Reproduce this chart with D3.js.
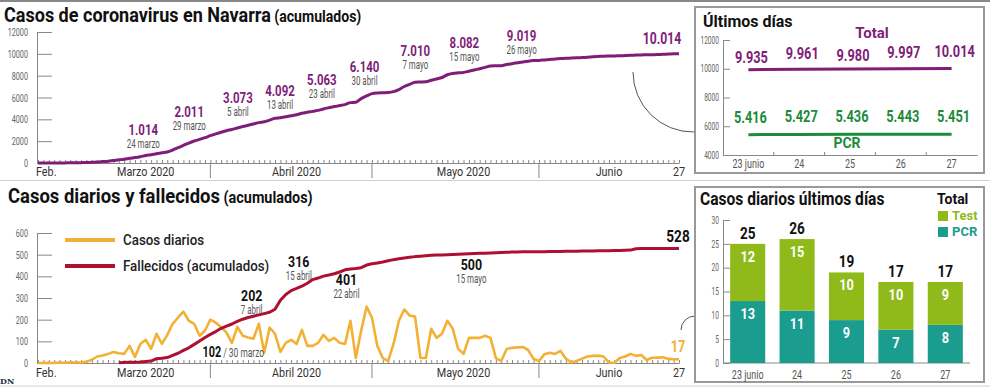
<!DOCTYPE html>
<html>
<head>
<meta charset="utf-8">
<script src="https://cdn.jsdelivr.net/npm/d3@7"></script>
<style>
body { margin: 0; background: #fff; }
svg { display: block; }
</style>
</head>
<body>
<svg width="990" height="387"></svg>
<script>
// serie diaria desde el 29 de febrero
const inicio = new Date(2020, 1, 29);

const casosAcumulados = [
  2, 3, 4, 6, 8, 10, 14, 20, 30, 45,
  60, 90, 130, 170, 230, 290, 350, 430, 500, 580,
  680, 760, 850, 930, 1014, 1190, 1400, 1620, 1830, 2011,
  2160, 2320, 2500, 2670, 2820, 2960, 3073, 3210, 3340, 3460,
  3580, 3700, 3780, 3930, 4092, 4150, 4240, 4330, 4420, 4560,
  4650, 4730, 4820, 4950, 5063, 5170, 5260, 5350, 5530, 5560,
  5900, 6140, 6350, 6420, 6440, 6460, 6540, 6720, 7010, 7200,
  7400, 7420, 7440, 7580, 7700, 7830, 8082, 8200, 8260, 8300,
  8410, 8520, 8640, 8760, 8880, 8900, 8910, 9019, 9100, 9180,
  9260, 9330, 9380, 9400, 9440, 9480, 9520, 9570, 9600, 9610,
  9630, 9660, 9690, 9725, 9760, 9790, 9795, 9800, 9820, 9845,
  9870, 9885, 9900, 9910, 9922, 9935, 9961, 9980, 9997, 10014
];

const casosDiarios = [
  0, 0, 1, 0, 2, 1, 3, 2, 3, 5,
  15, 30, 35, 42, 51, 45, 42, 79, 28, 88,
  107, 65, 135, 88, 130, 181, 210, 237, 195, 181,
  126, 150, 200, 186, 165, 140, 93, 167, 126, 118,
  112, 181, 47, 163, 135, 51, 93, 107, 88, 153,
  79, 79, 93, 130, 102, 116, 93, 88, 195, 23,
  150, 260, 209, 79, 23, 9, 88, 195, 247, 219,
  214, 23, 23, 158, 116, 135, 195, 158, 65, 42,
  116, 116, 116, 126, 116, 23, 9, 65, 70, 72,
  74, 60, 19, 9, 40, 47, 42, 56, 20, 2,
  9, 20, 30, 33, 34, 30, 2, 1, 23, 30,
  42, 33, 37, 14, 24, 25, 26, 19, 17, 17
];

// fallecidos acumulados desde el 15 de marzo
const inicioFallecidos = new Date(2020, 2, 15);
const fallecidos = [
  1, 2, 3, 4, 5, 7, 9, 20, 22, 25,
  35, 45, 58, 70, 86, 102, 118, 132, 145, 160,
  170, 180, 192, 202, 210, 216, 222, 228, 234, 248,
  290, 316, 334, 344, 355, 368, 385, 392, 401, 406,
  412, 420, 430, 434, 436, 440, 452, 458, 462, 466,
  472, 477, 481, 485, 488, 491, 493, 495, 497, 499,
  499, 500, 501, 502, 503, 504, 505, 506, 507, 508,
  509, 510, 511, 512, 512, 513, 513, 514, 514, 514,
  515, 515, 515, 516, 516, 516, 517, 517, 517, 518,
  518, 518, 519, 519, 520, 521, 527, 528, 528, 528,
  528, 528, 528, 528, 528
];

const hitosCasosFecha = [
  new Date(2020, 2, 24), new Date(2020, 2, 29), new Date(2020, 3, 5), new Date(2020, 3, 13),
  new Date(2020, 3, 23), new Date(2020, 3, 30), new Date(2020, 4, 7), new Date(2020, 4, 15),
  new Date(2020, 4, 26), new Date(2020, 5, 27)
];
const hitosCasosTexto = ["24 marzo", "29 marzo", "5 abril", "13 abril", "23 abril", "30 abril", "7 mayo", "15 mayo", "26 mayo", ""];

const hitosFallecidosFecha = [new Date(2020, 3, 7), new Date(2020, 3, 15), new Date(2020, 3, 22), new Date(2020, 4, 15), new Date(2020, 5, 27)];
const hitosFallecidosTexto = ["7 abril", "15 abril", "22 abril", "15 mayo", ""];
const hitoMarzo = new Date(2020, 2, 30);
const hitoMarzoTexto = " / 30 marzo";

const meses = ["Feb.", "Marzo 2020", "Abril 2020", "Mayo 2020", "Junio", "27"];
const mesesFecha = [new Date(2020, 1, 29), new Date(2020, 2, 20), new Date(2020, 3, 17), new Date(2020, 4, 18), new Date(2020, 5, 14), new Date(2020, 5, 27)];
const cortesMes = [new Date(2020, 3, 1), new Date(2020, 4, 1), new Date(2020, 5, 1)];

const ultimosDias = ["23 junio", "24", "25", "26", "27"];
const ultimosTotal = [9935, 9961, 9980, 9997, 10014];
const ultimosPCR = [5416, 5427, 5436, 5443, 5451];
const diariosPCR = [13, 11, 9, 7, 8];
const diariosTest = [12, 15, 10, 10, 9];

// colores y fuentes
const MORADO = "#7f1d79", VERDE = "#1d8a3c", AMARILLO = "#f2b134", ROJO = "#ad1030";
const LIMA = "#8fba1a", TURQUESA = "#1a9c8e";
const FUENTE = "Roboto, 'Open Sans', sans-serif";

let svg = d3.select("svg");
let fmt = d3.formatLocale({decimal: ",", thousands: ".", grouping: [3], currency: ["", " €"]}).format(",");

// estrecha el texto en horizontal (la fuente original es condensada)
function comprimir(sel, k) {
  sel.each(function() {
    let t = d3.select(this);
    let xx = +t.attr("x") || 0, yy = +t.attr("y") || 0;
    t.attr("x", null).attr("y", null).attr("transform", `translate(${xx},${yy}) scale(${k},1)`);
  });
}

let dias = casosAcumulados.map((d, i) => d3.timeDay.offset(inicio, i));
let diasFallecidos = fallecidos.map((d, i) => d3.timeDay.offset(inicioFallecidos, i));
let fin = dias[dias.length - 1];
let valorEn = (serie, arranque, fecha) => serie[d3.timeDay.count(arranque, fecha)];

let x = d3.scaleTime().domain([inicio, fin]).range([38, 679]);
let yTop = d3.scaleLinear().domain([0, 12000]).range([163, 32]);
let yBot = d3.scaleLinear().domain([0, 600]).range([363, 233]);

// marcos y separadores
svg.append("line").attr("x1", 0).attr("x2", 990).attr("y1", 1).attr("y2", 1).attr("stroke", "#888").attr("stroke-width", 2);
svg.append("line").attr("x1", 0).attr("x2", 990).attr("y1", 180.5).attr("y2", 180.5).attr("stroke", "#d0d0d0");
svg.append("line").attr("x1", 0).attr("x2", 990).attr("y1", 386).attr("y2", 386).attr("stroke", "#d0d0d0");

function ejeY(escala, valores, x0, largo) {
  let g = svg.append("g").attr("transform", `translate(${x0},0)`)
    .call(d3.axisLeft(escala).tickValues(valores).tickSizeInner(-largo).tickSizeOuter(0).tickPadding(largo > 10 ? 9 : 4).tickFormat(d3.format("d")));
  g.selectAll("path, line").attr("stroke", "#888");
  g.selectAll("text").attr("font-family", FUENTE).attr("font-size", largo > 10 ? 11 : 10).attr("fill", "#666").call(comprimir, 0.66);
  return g;
}

function ejeTiempo(y0, yTexto) {
  let g = svg.append("g").attr("transform", `translate(0,${y0})`)
    .call(d3.axisBottom(x).ticks(d3.timeDay.every(1)).tickSize(-3).tickSizeOuter(0).tickFormat(""));
  g.selectAll("path, line").attr("stroke", "#888");
  g.selectAll(".corte").data(cortesMes).join("line").attr("class", "corte")
    .attr("x1", d => x(d)).attr("x2", d => x(d)).attr("y1", 0).attr("y2", 15)
    .attr("stroke", "#888");
  svg.selectAll(null).data(meses).join("text")
    .attr("x", (d, i) => i == 0 ? x(mesesFecha[i]) - 2 : x(mesesFecha[i]))
    .attr("y", yTexto)
    .attr("text-anchor", (d, i) => i == 0 ? "start" : "middle")
    .attr("font-family", FUENTE).attr("font-size", 13.5).attr("fill", "#333")
    .text(d => d)
    .call(comprimir, 0.8);
}

// ---- Casos de coronavirus en Navarra ----
let t1 = svg.append("text").attr("x", 4).attr("y", 22).attr("font-family", FUENTE).attr("font-weight", 700).attr("fill", "#111");
t1.append("tspan").attr("font-size", 20.5).text("Casos de coronavirus en Navarra");
t1.append("tspan").attr("font-size", 16).text(" (acumulados)");
t1.call(comprimir, 0.88);

ejeY(yTop, d3.range(0, 12001, 2000), 37, 15);
ejeTiempo(163, 176);

svg.append("path")
  .datum(casosAcumulados)
  .attr("d", d3.line().x((d, i) => x(dias[i])).y(d => yTop(d)).curve(d3.curveMonotoneX))
  .attr("fill", "none").attr("stroke", MORADO).attr("stroke-width", 3).attr("stroke-linejoin", "round");

let offCasos = [[-24, -17], [-5, -24], [6, -26], [5, -22], [-7, -23], [-2, -24], [11, -30], [17, -27], [15, -24], [-17, -10]];
hitosCasosFecha.forEach(function(f, i) {
  let v = valorEn(casosAcumulados, inicio, f);
  let cx = x(f) + offCasos[i][0], cy = yTop(v) + offCasos[i][1];
  svg.append("text").attr("x", cx).attr("y", cy).attr("text-anchor", "middle")
    .attr("font-family", FUENTE).attr("font-weight", 700).attr("font-size", i == 9 ? 16.5 : 15.5).attr("fill", MORADO)
    .text(fmt(v)).call(comprimir, 0.74);
  svg.append("text").attr("x", cx).attr("y", cy + 13).attr("text-anchor", "middle")
    .attr("font-family", FUENTE).attr("font-size", 12).attr("fill", "#555")
    .text(hitosCasosTexto[i]).call(comprimir, 0.66);
});

// conector hacia el recuadro
svg.append("path").attr("d", "M633,72 A60,60 0 0,0 694,132").attr("fill", "none").attr("stroke", "#555").attr("stroke-width", 1);

// ---- Últimos días ----
svg.append("rect").attr("x", 695).attr("y", 7).attr("width", 289).attr("height", 166)
  .attr("fill", "#fff").attr("stroke", "#999").attr("stroke-width", 2);
svg.append("text").attr("x", 703).attr("y", 27).attr("font-family", FUENTE).attr("font-weight", 700).attr("font-size", 17).attr("fill", "#111")
  .text("Últimos días").call(comprimir, 0.94);

let xUlt = d3.scaleBand().domain(ultimosDias).range([723, 977]);
let yUlt = d3.scaleLinear().domain([4000, 12000]).range([155, 40]);
ejeY(yUlt, d3.range(4000, 12001, 2000), 723, 7);

let gxUlt = svg.append("g").attr("transform", "translate(0,155)")
  .call(d3.axisBottom(xUlt).tickSize(0).tickSizeOuter(0).tickPadding(4));
gxUlt.selectAll("path").attr("stroke", "#888");
gxUlt.selectAll("text").attr("font-family", FUENTE).attr("font-size", 12.5).attr("fill", "#555").call(comprimir, 0.72);
gxUlt.selectAll(".sep").data(ultimosDias.slice(1)).join("line").attr("class", "sep")
  .attr("x1", d => xUlt(d)).attr("x2", d => xUlt(d)).attr("y1", 0).attr("y2", -3).attr("stroke", "#888");

let cUlt = d => xUlt(d) + xUlt.bandwidth() / 2;
let lineaUlt = d3.line().x((d, i) => cUlt(ultimosDias[i])).y(d => yUlt(d));
svg.append("path").datum(ultimosTotal).attr("d", lineaUlt).attr("fill", "none").attr("stroke", MORADO).attr("stroke-width", 3);
svg.append("path").datum(ultimosPCR).attr("d", lineaUlt).attr("fill", "none").attr("stroke", VERDE).attr("stroke-width", 3);

let dyTotal = [1, -2, 0, -3, -4];
svg.selectAll(null).data(ultimosTotal).join("text")
  .attr("x", (d, i) => cUlt(ultimosDias[i]) + 3).attr("y", (d, i) => yUlt(d) - 8 + dyTotal[i])
  .attr("text-anchor", "middle").attr("font-family", FUENTE).attr("font-weight", 700).attr("font-size", 16).attr("fill", MORADO)
  .text(d => fmt(d)).call(comprimir, 0.8);
svg.selectAll(null).data(ultimosPCR).join("text")
  .attr("x", (d, i) => cUlt(ultimosDias[i]) + 2).attr("y", d => yUlt(d) - 12)
  .attr("text-anchor", "middle").attr("font-family", FUENTE).attr("font-weight", 700).attr("font-size", 16).attr("fill", VERDE)
  .text(d => fmt(d)).call(comprimir, 0.8);
svg.append("text").attr("x", 872).attr("y", 38).attr("text-anchor", "middle").attr("font-family", FUENTE).attr("font-weight", 700).attr("font-size", 15).attr("fill", MORADO).text("Total");
svg.append("text").attr("x", 847).attr("y", 148).attr("text-anchor", "middle").attr("font-family", FUENTE).attr("font-weight", 700).attr("font-size", 14).attr("fill", VERDE).text("PCR");

// ---- Casos diarios y fallecidos ----
let t2 = svg.append("text").attr("x", 8).attr("y", 203).attr("font-family", FUENTE).attr("font-weight", 700).attr("fill", "#111");
t2.append("tspan").attr("font-size", 20.5).text("Casos diarios y fallecidos");
t2.append("tspan").attr("font-size", 16).text(" (acumulados)");
t2.call(comprimir, 0.9);

ejeY(yBot, d3.range(0, 601, 100), 37, 15);
ejeTiempo(363, 377);

svg.append("path")
  .datum(casosDiarios)
  .attr("d", d3.line().x((d, i) => x(dias[i])).y(d => yBot(d)))
  .attr("fill", "none").attr("stroke", AMARILLO).attr("stroke-width", 2.6).attr("stroke-linejoin", "round");
svg.append("path")
  .datum(fallecidos)
  .attr("d", d3.line().x((d, i) => x(diasFallecidos[i])).y(d => yBot(d)))
  .attr("fill", "none").attr("stroke", ROJO).attr("stroke-width", 3).attr("stroke-linejoin", "round");

// leyenda
let leyenda = [["Casos diarios", AMARILLO], ["Fallecidos (acumulados)", ROJO]];
leyenda.forEach(function(l, i) {
  let ly = 240 + i * 26;
  svg.append("line").attr("x1", 65).attr("x2", 115).attr("y1", ly).attr("y2", ly).attr("stroke", l[1]).attr("stroke-width", 4);
  svg.append("text").attr("x", 123).attr("y", ly + 5).attr("font-family", FUENTE).attr("font-weight", 500).attr("font-size", 14.5).attr("fill", "#222")
    .text(l[0]).call(comprimir, 0.92);
});

let offFall = [[9, -18], [13, -28], [23, 9], [24, 15], [-1, -7]];
hitosFallecidosFecha.forEach(function(f, i) {
  let v = valorEn(fallecidos, inicioFallecidos, f);
  let cx = x(f) + offFall[i][0], cy = yBot(v) + offFall[i][1];
  svg.append("text").attr("x", cx).attr("y", cy).attr("text-anchor", "middle")
    .attr("font-family", FUENTE).attr("font-weight", 700).attr("font-size", i == 4 ? 17 : 15.5).attr("fill", "#111")
    .text(v).call(comprimir, 0.8);
  svg.append("text").attr("x", cx).attr("y", cy + 13).attr("text-anchor", "middle")
    .attr("font-family", FUENTE).attr("font-size", 12).attr("fill", "#555")
    .text(hitosFallecidosTexto[i]).call(comprimir, 0.66);
});
let tm = svg.append("text").attr("x", x(hitoMarzo) + 3).attr("y", yBot(valorEn(fallecidos, inicioFallecidos, hitoMarzo)) + 16);
tm.append("tspan").attr("font-family", FUENTE).attr("font-weight", 700).attr("font-size", 15.5).attr("fill", "#111").text(valorEn(fallecidos, inicioFallecidos, hitoMarzo));
tm.append("tspan").attr("font-family", FUENTE).attr("font-size", 12).attr("fill", "#555").text(hitoMarzoTexto);
tm.call(comprimir, 0.7);

svg.append("text").attr("x", x(fin) - 1).attr("y", yBot(casosDiarios[casosDiarios.length - 1]) - 7).attr("text-anchor", "middle")
  .attr("font-family", FUENTE).attr("font-weight", 700).attr("font-size", 17).attr("fill", AMARILLO)
  .text(casosDiarios[casosDiarios.length - 1]).call(comprimir, 0.75);

svg.append("path").attr("d", "M681,330 A14,14 0 0,1 695,316").attr("fill", "none").attr("stroke", "#555").attr("stroke-width", 1);

svg.append("text").attr("x", 0).attr("y", 384).attr("font-family", "'DejaVu Serif', serif").attr("font-weight", 700).attr("font-size", 8).attr("fill", "#1b2a4a").text("DN");

// ---- Casos diarios últimos días ----
svg.append("rect").attr("x", 695).attr("y", 187).attr("width", 289).attr("height", 195)
  .attr("fill", "#fff").attr("stroke", "#999").attr("stroke-width", 2);
svg.append("text").attr("x", 700).attr("y", 205).attr("font-family", FUENTE).attr("font-weight", 700).attr("font-size", 17.5).attr("fill", "#111")
  .text("Casos diarios últimos días").call(comprimir, 0.89);

let xBar = d3.scaleBand().domain(ultimosDias).range([723, 970]).paddingInner(0.29).paddingOuter(0.145);
let yBar = d3.scaleLinear().domain([0, 30]).range([363, 220]);
ejeY(yBar, d3.range(0, 31, 5), 723, 7);

let gxBar = svg.append("g").attr("transform", "translate(0,363)")
  .call(d3.axisBottom(xBar).tickSize(0).tickSizeOuter(0).tickPadding(7));
gxBar.select("path").attr("d", "M723,0H970").attr("stroke", "#888");
gxBar.selectAll("text").attr("font-family", FUENTE).attr("font-size", 12.5).attr("fill", "#555").call(comprimir, 0.72);

let filas = ultimosDias.map((d, i) => ({dia: d, pcr: diariosPCR[i], test: diariosTest[i]}));
let series = d3.stack().keys(["pcr", "test"])(filas);
let colorBar = {pcr: TURQUESA, test: LIMA};

series.forEach(function(s) {
  svg.selectAll(null).data(s).join("rect")
    .attr("x", d => xBar(d.data.dia)).attr("width", xBar.bandwidth())
    .attr("y", d => yBar(d[1])).attr("height", d => yBar(d[0]) - yBar(d[1]))
    .attr("fill", colorBar[s.key]);
  svg.selectAll(null).data(s).join("text")
    .attr("x", d => xBar(d.data.dia) + xBar.bandwidth() / 2).attr("y", d => yBar(d[1]) + 18)
    .attr("text-anchor", "middle").attr("font-family", FUENTE).attr("font-weight", 700).attr("font-size", 15).attr("fill", "#fff")
    .text(d => d[1] - d[0]).call(comprimir, 0.85);
});
svg.selectAll(null).data(filas).join("text")
  .attr("x", d => xBar(d.dia) + xBar.bandwidth() / 2).attr("y", d => yBar(d.pcr + d.test) - 5)
  .attr("text-anchor", "middle").attr("font-family", FUENTE).attr("font-weight", 700).attr("font-size", 16).attr("fill", "#111")
  .text(d => d.pcr + d.test).call(comprimir, 0.85);

svg.append("text").attr("x", 937).attr("y", 204).attr("font-family", FUENTE).attr("font-weight", 700).attr("font-size", 14).attr("fill", "#111").text("Total");
[["Test", LIMA], ["PCR", TURQUESA]].forEach(function(l, i) {
  svg.append("rect").attr("x", 938).attr("y", 211 + i * 16).attr("width", 10).attr("height", 10).attr("fill", l[1]);
  svg.append("text").attr("x", 952).attr("y", 220 + i * 16).attr("font-family", FUENTE).attr("font-weight", 700).attr("font-size", 13).attr("fill", l[1]).text(l[0]);
});
</script>
</body>
</html>
